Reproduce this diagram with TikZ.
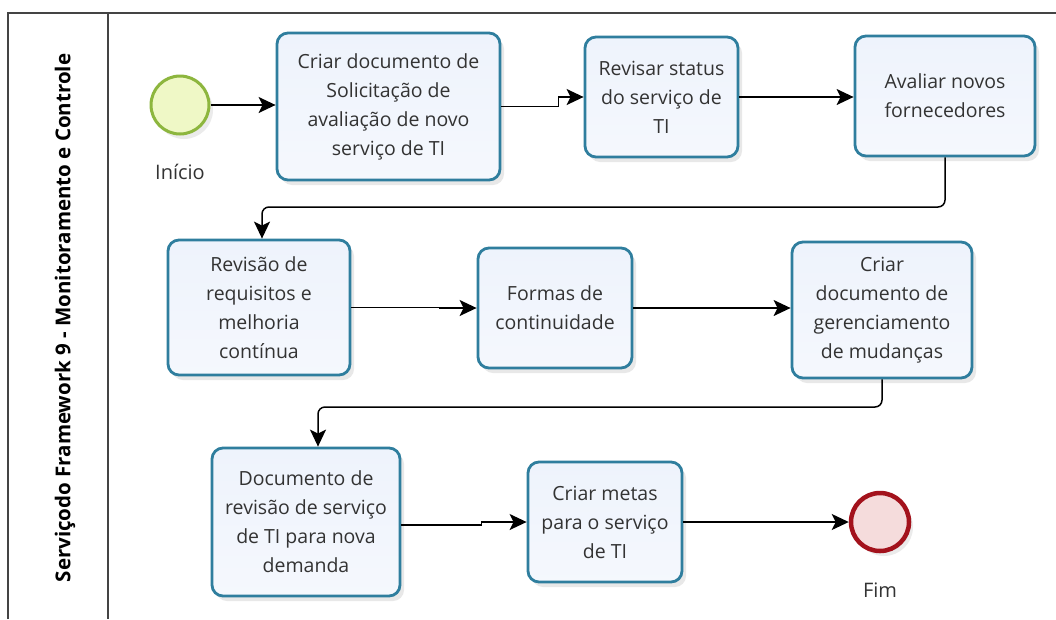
\documentclass[tikz,border=0pt]{standalone}
\usepackage{fontspec}
\setmainfont{Open Sans}
\usetikzlibrary{arrows.meta,shadows,calc}
\definecolor{taskborder}{HTML}{2F7E9E}
\definecolor{taskfill}{HTML}{EEF3FC}
\definecolor{txt}{HTML}{333333}
\definecolor{startborder}{HTML}{8DB63E}
\definecolor{startfill}{HTML}{EFF8C6}
\definecolor{endborder}{HTML}{A3121C}
\definecolor{endfill}{HTML}{F5DCDC}
\definecolor{framec}{HTML}{444444}
\tikzset{
  taskbox/.style={draw=taskborder, line width=2.8pt, rounded corners=11pt,
    top color=taskfill, bottom color=taskfill!60!white, align=center, text=txt,
    font=\fontsize{19.5}{29}\selectfont, inner sep=0pt,
    drop shadow={shadow xshift=4pt, shadow yshift=-5pt, fill=black!25, opacity=0.35}},
  flow/.style={line width=1.5pt, -{Stealth[length=17pt,width=16pt,inset=4pt]}},
  flowr/.style={flow, rounded corners=7pt},
  lbl/.style={text=txt, font=\fontsize{20}{24}\selectfont},
  framel/.style={draw=framec, line width=1.8pt}
}
\begin{document}
\begin{tikzpicture}[x=1pt,y=-1pt]
\useasboundingbox (0,0) rectangle (1056,619);
\fill[white] (0,0) rectangle (1056,619);
% frame
\draw[framel] (8,619) -- (8,13) -- (1056,13);
\draw[framel] (108,13) -- (108,619);
\node[rotate=90, font=\bfseries\fontsize{20.5}{24}\selectfont, text=black] (lane) at (65,318) {Serviçodo Framework 9 - Monitoramento e Controle};
% events
\node[circle, draw=startborder, line width=3pt, fill=startfill, minimum size=58pt,
  drop shadow={shadow xshift=4pt, shadow yshift=-5pt, fill=black!25, opacity=0.3}] (start) at (180,105) {};
\node[lbl] (startl) at (180,172) {Início};
\node[circle, draw=endborder, line width=4.5pt, fill=endfill, minimum size=58pt,
  drop shadow={shadow xshift=4pt, shadow yshift=-5pt, fill=black!25, opacity=0.3}] (end) at (880,522) {};
\node[lbl] (endl) at (880,590) {Fim};
% tasks
\node[taskbox, minimum width=223pt, minimum height=147pt] (t1) at (388.5,106.5)
  {Criar documento de\\Solicitação de\\avaliação de novo\\serviço de TI};
\node[taskbox, minimum width=153pt, minimum height=120pt] (t2) at (661.5,97)
  {Revisar status\\do serviço de\\TI};
\node[taskbox, minimum width=180pt, minimum height=120pt] (t3) at (945,96)
  {Avaliar novos\\fornecedores};
\node[taskbox, minimum width=182pt, minimum height=135pt] (t4) at (259,307.5)
  {Revisão de\\requisitos e\\melhoria\\contínua};
\node[taskbox, minimum width=154pt, minimum height=120pt] (t5) at (555,308)
  {Formas de\\continuidade};
\node[taskbox, minimum width=180pt, minimum height=136pt] (t6) at (882,310)
  {Criar\\documento de\\gerenciamento\\de mudanças};
\node[taskbox, minimum width=188pt, minimum height=148pt] (t7) at (306,522)
  {Documento de\\revisão de serviço\\de TI para nova\\demanda};
\node[taskbox, minimum width=154pt, minimum height=120pt] (t8) at (605,522)
  {Criar metas\\para o serviço\\de TI};
% connectors
\coordinate (r1) at (0,207);
\coordinate (r2) at (0,407);
\draw[flow] (start.east) -- (start.east -| t1.west);
\draw[flow] (t1.east) -- ++(57,0) |- (t2.west);
\draw[flow] (t2.east) -- (t2.east -| t3.west);
\draw[flowr] (t3.south) -- (t3.south |- r1) -- ([xshift=3pt]t4.north |- r1) -- ([xshift=3pt]t4.north);
\draw[flow] (t4.east) -- ++(88,0) |- (t5.west);
\draw[flow] (t5.east) -- (t5.east -| t6.west);
\draw[flowr] (t6.south) -- (t6.south |- r2) -- ([xshift=12pt]t7.north |- r2) -- ([xshift=12pt]t7.north);
\draw[flow] ([yshift=-3pt]t7.east) -- ++(80,0) |- (t8.west);
\draw[flow] (t8.east) -- (t8.east -| end.west);
\end{tikzpicture}
\end{document}
